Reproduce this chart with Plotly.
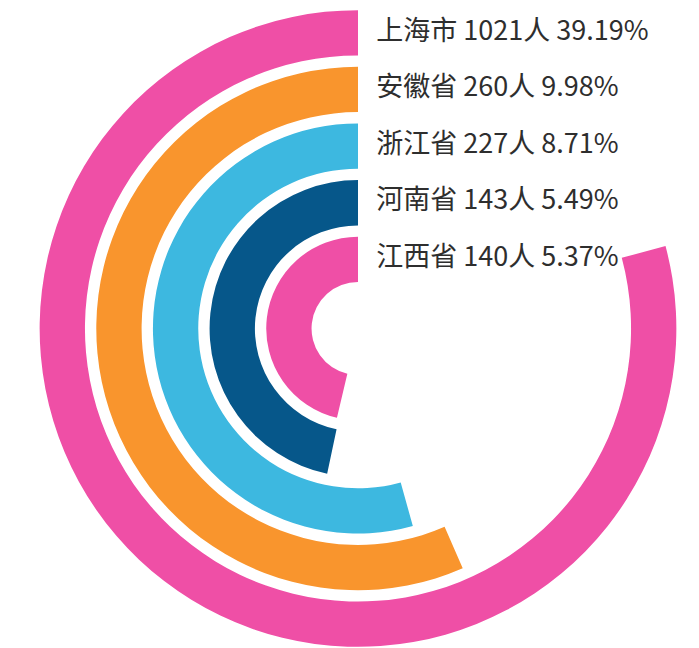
import numpy as np
import plotly.graph_objects as go

# ---- data (top label / outermost ring first) ----
provinces = ["上海市", "安徽省", "浙江省", "河南省", "江西省"]
counts = [1021, 260, 227, 143, 140]
percents = ["39.19%", "9.98%", "8.71%", "5.49%", "5.37%"]
colors = ["#EF4FA6", "#F9952D", "#3DB8E0", "#06578A", "#EF4FA6"]

# angular axis behaves as a log scale: these values span the full circle
ANGLE_AXIS_MIN = 8.5
ANGLE_AXIS_MAX = 3600

n = len(provinces)
slots = [n - 1 - i for i in range(n)]  # outer ring for first item
lo, hi = np.log10(ANGLE_AXIS_MIN), np.log10(ANGLE_AXIS_MAX)
sweep = 360.0 * (np.log10(np.array(counts, dtype=float)) - lo) / (hi - lo)

BAND = 0.8

fig = go.Figure()
fig.add_trace(go.Barpolar(
    r=[BAND] * n,
    base=[s - BAND / 2 for s in slots],
    theta=sweep / 2,
    width=sweep,
    marker=dict(color=colors, line=dict(width=0)),
    hoverinfo="skip",
))

labels = ["\u00a0\u00a0\u00a0{} {}人 {}".format(p, c, pc) for p, c, pc in zip(provinces, counts, percents)]
fig.add_trace(go.Scatterpolar(
    r=slots,
    theta=[0] * n,
    mode="text",
    text=labels,
    textposition="middle right",
    textfont=dict(size=27, color="#2e2e2e", family="Noto Sans CJK SC"),
    cliponaxis=False,
    hoverinfo="skip",
))

# page has an 8px body margin; figure fills the rest of the 699x648 window
W, H = 691, 640
cx, cy_top, R = 350, 320.5, 319.5
fig.update_layout(
    width=W, height=H,
    margin=dict(l=0, r=0, t=0, b=0),
    paper_bgcolor="white",
    showlegend=False,
    polar=dict(
        domain=dict(x=[(cx - R) / W, (cx + R) / W], y=[(H - cy_top - R) / H, (H - cy_top + R) / H]),
        bgcolor="white",
        radialaxis=dict(range=[-1.22, 4.42], visible=False, showgrid=False, showline=False,
                        showticklabels=False, ticks=""),
        angularaxis=dict(rotation=90, direction="counterclockwise", visible=False,
                         showgrid=False, showline=False, showticklabels=False, ticks=""),
        barmode="overlay",
    ),
)

fig.write_html("out.html")
